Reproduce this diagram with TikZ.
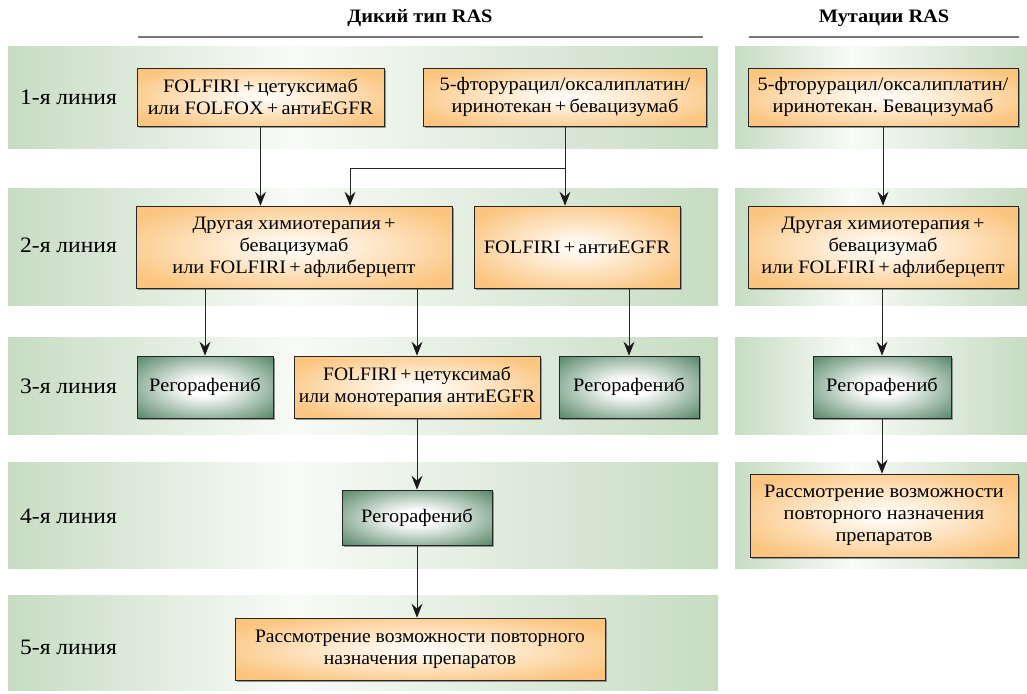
\documentclass[tikz,border=0pt]{standalone}
\usepackage{fontspec}
\setmainfont[FakeStretch=1.07]{Liberation Serif}
\newfontfamily\condfont[FakeStretch=1.03]{Liberation Serif}
\usetikzlibrary{arrows.meta,shadows}
\frenchspacing
\definecolor{bandout}{RGB}{199,220,195}
\definecolor{bandin}{RGB}{248,251,247}
\definecolor{orout}{RGB}{251,197,128}
\definecolor{orin}{RGB}{255,251,244}
\definecolor{grout}{RGB}{88,136,104}
\definecolor{grin}{RGB}{255,255,255}
\definecolor{hdline}{RGB}{120,120,120}
\pgfdeclarehorizontalshading{bandsh}{100bp}{color(0bp)=(bandout); color(25bp)=(bandout); color(45bp)=(bandin); color(75bp)=(bandout); color(100bp)=(bandout)}
\pgfdeclareradialshading{orsh}{\pgfpoint{0bp}{0bp}}{color(0bp)=(orin); color(3bp)=(orin); color(30bp)=(orout); color(50bp)=(orout)}
\pgfdeclareradialshading{grsh}{\pgfpoint{0bp}{0bp}}{color(0bp)=(grin); color(7bp)=(grin); color(35bp)=(grout); color(50bp)=(grout)}
\tikzset{
  boxbase/.style={draw=black!85, line width=0.7pt, align=center, inner sep=2pt,
    font=\fontsize{19}{22}\selectfont,
    drop shadow={shadow xshift=1.6pt, shadow yshift=-1.6pt, fill=black!45, opacity=0.9}},
  obox/.style={boxbase, shading=orsh},
  gbox/.style={boxbase, shading=grsh},
  band/.style={shading=bandsh},
  linelabel/.style={anchor=west, font=\fontsize{22}{24}\selectfont, inner sep=0pt},
  header/.style={font=\fontsize{19}{22}\selectfont\bfseries, inner sep=0pt},
  hline/.style={draw=hdline, line width=1.2pt},
  arr/.style={draw=black!85, line width=0.8pt, -{Stealth[length=14pt,width=11pt,inset=5pt,color=black!90]}},
  conn/.style={draw=black!85, line width=0.8pt}
}
\begin{document}
\begin{tikzpicture}[x=1pt,y=-1pt]
\useasboundingbox (0,0) rectangle (1027,693);
% bands
\fill[band] (8,47) rectangle (718,148);
\fill[band] (8,188) rectangle (718,305);
\fill[band] (8,337) rectangle (718,434);
\fill[band] (8,462) rectangle (718,568);
\fill[band] (8,595) rectangle (718,690);
\fill[band] (735,47) rectangle (1027,148);
\fill[band] (735,188) rectangle (1027,305);
\fill[band] (735,337) rectangle (1027,434);
\fill[band] (735,462) rectangle (1027,568);
% headers
\node[header] (h1) at (420,18) {Дикий тип RAS};
\coordinate (h1l) at (138,37);
\coordinate (h1r) at (703,37);
\draw[hline] (h1l) -- (h1r);
\node[header] (h2) at (884,18) {Мутации RAS};
\coordinate (h2l) at (749,37);
\coordinate (h2r) at (1019,37);
\draw[hline] (h2l) -- (h2r);
% line labels
\node[linelabel] (l1) at (20,97) {1-я линия};
\node[linelabel] (l2) at (20,245) {2-я линия};
\node[linelabel] (l3) at (20,386) {3-я линия};
\node[linelabel] (l4) at (20,516) {4-я линия};
\node[linelabel] (l5) at (20,647) {5-я линия};
% boxes
\node[obox, minimum width=247pt, minimum height=58pt] (b1a) at (260.5,97) {FOLFIRI\,+\,цетуксимаб\\или FOLFOX\,+\,антиEGFR};
\node[obox, minimum width=283pt, minimum height=58pt] (b1b) at (565,97) {5-фторурацил/оксалиплатин/\\иринотекан\,+\,бевацизумаб};
\node[obox, minimum width=270pt, minimum height=58pt] (b1r) at (883,97) {5-фторурацил/оксалиплатин/\\иринотекан. Бевацизумаб};
\node[obox, minimum width=316pt, minimum height=82pt] (b2a) at (294,247) {Другая химиотерапия\,+\\бевацизумаб\\или FOLFIRI\,+\,афлиберцепт};
\node[obox, minimum width=206pt, minimum height=82pt] (b2b) at (577,247) {FOLFIRI\,+\,антиEGFR};
\node[obox, minimum width=270pt, minimum height=82pt] (b2r) at (883,247) {Другая химиотерапия\,+\\бевацизумаб\\или FOLFIRI\,+\,афлиберцепт};
\node[gbox, minimum width=136pt, minimum height=62pt] (b3a) at (205,387) {Регорафениб};
\node[obox, minimum width=246pt, minimum height=62pt, font=\condfont\fontsize{19}{22}\selectfont] (b3b) at (417,387) {FOLFIRI\,+\,цетуксимаб\\или монотерапия антиEGFR};
\node[gbox, minimum width=140pt, minimum height=62pt] (b3c) at (629,387) {Регорафениб};
\node[gbox, minimum width=138pt, minimum height=62pt] (b3r) at (882,387) {Регорафениб};
\node[gbox, minimum width=150pt, minimum height=55pt] (b4) at (417,517.5) {Регорафениб};
\node[obox, minimum width=268pt, minimum height=83pt] (b4r) at (884,515.5) {Рассмотрение возможности\\повторного назначения\\препаратов};
\node[obox, minimum width=370pt, minimum height=62pt, font=\condfont\fontsize{19}{22}\selectfont] (b5) at (420,649) {Рассмотрение возможности повторного\\назначения препаратов};
% connectors
\coordinate (jy) at (0,168);
\coordinate (j2) at (350,168);
\draw[arr] (b1a.south) -- (b1a.south |- b2a.north);
\draw[arr] (b1b.south) |- (j2) -- (j2 |- b2a.north);
\draw[arr] (b1b.south) -- (b1b.south |- b2b.north);
\draw[arr] (b3a.north |- b2a.south) -- (b3a.north);
\draw[arr] (b3b.north |- b2a.south) -- (b3b.north);
\draw[arr] (b3c.north |- b2b.south) -- (b3c.north);
\draw[arr] (b3b.south) -- (b4.north);
\draw[arr] (b4.south) -- (b4.south |- b5.north);
\draw[arr] (b1r.south) -- (b1r.south |- b2r.north);
\draw[arr] (b3r.north |- b2r.south) -- (b3r.north);
\draw[arr] (b3r.south) -- (b3r.south |- b4r.north);
\end{tikzpicture}
\end{document}
